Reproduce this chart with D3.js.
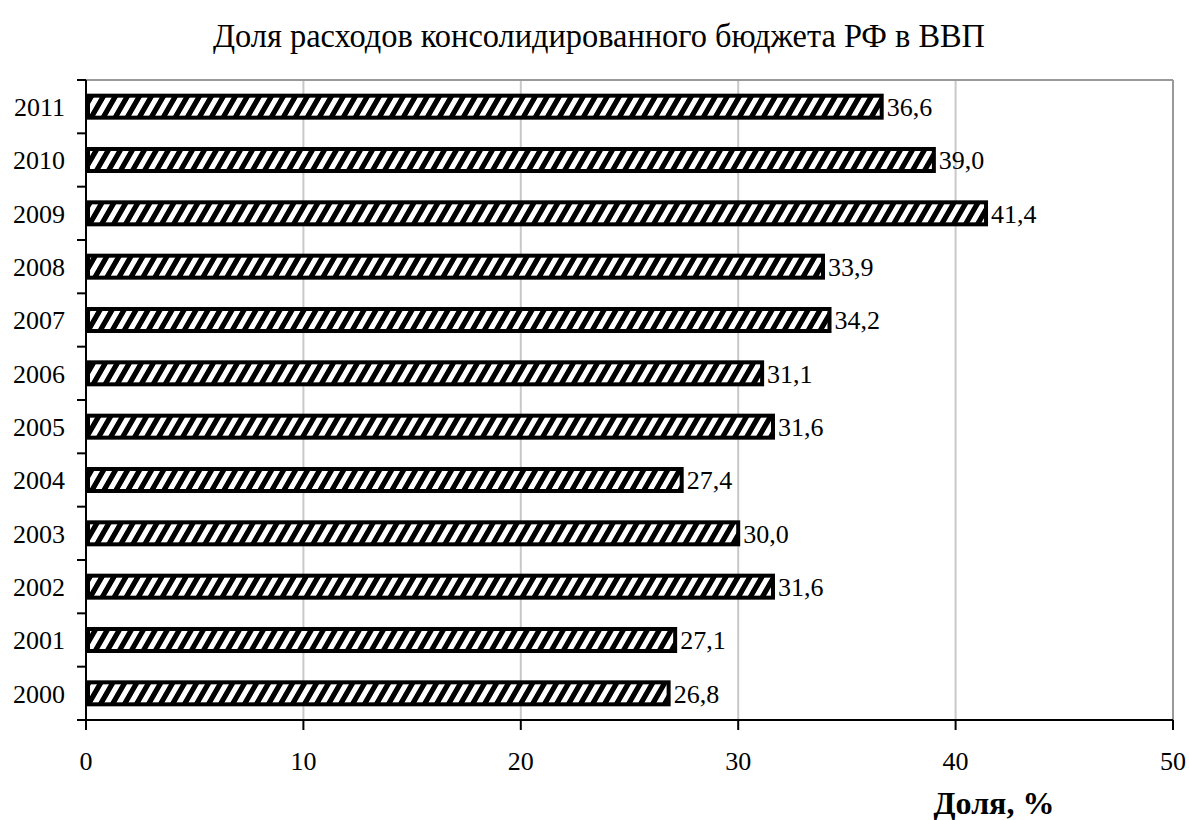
<!DOCTYPE html>
<html><head><meta charset="utf-8">
<script src="https://cdn.jsdelivr.net/npm/d3@7"></script>
<style>body{margin:0;background:#fff}svg{display:block}text{font-family:"Liberation Serif","Times New Roman",serif;fill:#000}</style>
</head><body>
<script>
const years = ["2000","2001","2002","2003","2004","2005","2006","2007","2008","2009","2010","2011"];
const values = [26.8,27.1,31.6,30.0,27.4,31.6,31.1,34.2,33.9,41.4,39.0,36.6];
const xTicks = [0,10,20,30,40,50];
const title = "Доля расходов консолидированного бюджета РФ в ВВП";
const xTitle = "Доля, %";

const W=1189,H=820;
const m={left:86,right:16,top:80,bottom:100};
const svg=d3.select("body").append("svg").attr("width",W).attr("height",H);
const defs=svg.append("defs");
const pat=defs.append("pattern").attr("id","hatch").attr("patternUnits","userSpaceOnUse")
  .attr("width",12).attr("height",12).attr("patternTransform","skewX(-30)");
pat.append("rect").attr("width",12).attr("height",12).attr("fill","#fff");
pat.append("rect").attr("width",6).attr("height",12).attr("fill","#000");

const x=d3.scaleLinear().domain([0,50]).range([m.left,W-m.right]);
const y=d3.scaleBand().domain(years.slice().reverse()).range([m.top,H-m.bottom]);

// grid
svg.append("g").selectAll("line").data(xTicks.slice(1)).join("line")
  .attr("x1",d=>x(d)).attr("x2",d=>x(d)).attr("y1",m.top).attr("y2",H-m.bottom)
  .attr("stroke",d=>d===50?"#999":"#c8c8c8").attr("stroke-width",2);
svg.append("line").attr("x1",m.left).attr("x2",x(50)).attr("y1",m.top).attr("y2",m.top)
  .attr("stroke","#999").attr("stroke-width",2);

// bars
const bh=22;
svg.append("g").selectAll("rect").data(years).join("rect")
  .attr("x",x(0)+2).attr("y",(d)=>y(d)+y.bandwidth()/2-bh/2)
  .attr("width",(d,i)=>x(values[i])-x(0)-2).attr("height",bh)
  .attr("fill","url(#hatch)").attr("stroke","#000").attr("stroke-width",4);

// value labels
svg.append("g").selectAll("text").data(years).join("text")
  .attr("x",(d,i)=>x(values[i])+5).attr("y",d=>y(d)+y.bandwidth()/2)
  .attr("dy","0.36em").attr("font-size",26)
  .text((d,i)=>values[i].toFixed(1).replace(".",","));

// y axis
const ya=svg.append("g");
ya.append("line").attr("x1",m.left).attr("x2",m.left).attr("y1",m.top).attr("y2",H-m.bottom+10)
  .attr("stroke","#000").attr("stroke-width",2);
const bounds=d3.range(years.length+1).map(i=>m.top+i*y.step());
ya.selectAll("line.t").data(bounds).join("line").attr("class","t")
  .attr("x1",m.left-9).attr("x2",m.left).attr("y1",d=>d).attr("y2",d=>d)
  .attr("stroke","#000").attr("stroke-width",2);
ya.selectAll("text").data(years).join("text")
  .attr("x",65).attr("y",d=>y(d)+y.bandwidth()/2).attr("dy","0.36em")
  .attr("text-anchor","end").attr("font-size",26).text(d=>d);

// x axis
const xa=svg.append("g");
xa.append("line").attr("x1",m.left).attr("x2",x(50)).attr("y1",H-m.bottom).attr("y2",H-m.bottom)
  .attr("stroke","#000").attr("stroke-width",2);
xa.selectAll("line.t").data(xTicks).join("line").attr("class","t")
  .attr("x1",d=>x(d)).attr("x2",d=>x(d)).attr("y1",H-m.bottom).attr("y2",H-m.bottom+10)
  .attr("stroke","#000").attr("stroke-width",2);
xa.selectAll("text").data(xTicks).join("text")
  .attr("x",d=>x(d)).attr("y",770)
  .attr("text-anchor","middle").attr("font-size",26).text(d=>d);

svg.append("text").attr("x",994).attr("y",814).attr("text-anchor","middle")
  .attr("font-size",32).attr("font-weight","bold").text(xTitle);
svg.append("text").attr("x",599).attr("y",47).attr("text-anchor","middle")
  .attr("font-size",33).attr("textLength",772).attr("lengthAdjust","spacingAndGlyphs").text(title);
</script>
</body></html>
